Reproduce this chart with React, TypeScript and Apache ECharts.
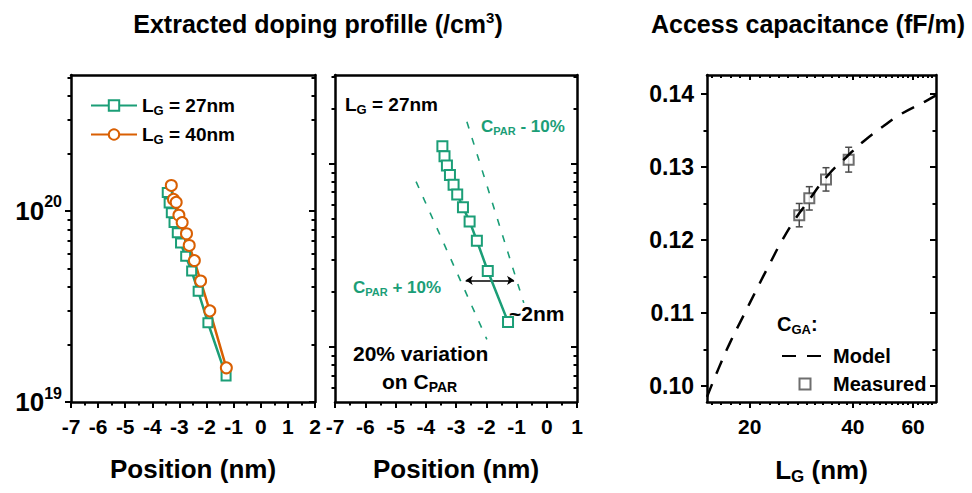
import React, { useEffect, useRef } from 'react';
import * as echarts from 'echarts';

// ---------- data ----------
const POS_27 = [-3.45, -3.38, -3.30, -3.20, -3.08, -2.96, -2.77, -2.55, -2.31, -1.95, -1.28];
const DOP_27 = [1.25e20, 1.10e20, 9.8e19, 8.7e19, 7.7e19, 6.8e19, 5.8e19, 4.85e19, 3.8e19, 2.6e19, 1.37e19];
const POS_40 = [-3.30, -3.22, -3.12, -3.02, -2.90, -2.74, -2.64, -2.45, -2.22, -1.88, -1.27];
const DOP_40 = [1.36e20, 1.15e20, 1.11e20, 9.5e19, 8.7e19, 7.6e19, 6.6e19, 5.5e19, 4.3e19, 3.0e19, 1.51e19];

const PLUS10_X = [-4.32, -1.98];
const PLUS10_Y = [8.0e19, 1.1e19];
const MINUS10_X = [-2.64, -0.76];
const MINUS10_Y = [1.70e20, 1.74e19];
const ARROW_X = [-2.68, -1.08];
const ARROW_Y = 2.31e19;

const LG_MEAS = [27.9, 29.85, 33.4, 38.9];
const C_MEAS = [0.1234, 0.1257, 0.1283, 0.1310];
const C_ERR = [0.0016, 0.0016, 0.0016, 0.0017];

const MODEL_LG = [15, 16.15, 17.46, 19.11, 20.93, 22.91, 24.77, 27.1, 29.3, 33.6, 38.4, 42.96, 49.2, 55.1, 65.2, 70];
const MODEL_C = [0.0985, 0.1022, 0.1058, 0.1095, 0.1132, 0.1168, 0.1198, 0.1228, 0.1250, 0.1287, 0.1314, 0.1335, 0.1356, 0.1372, 0.1390, 0.1398];

// ticks / labels
const Y_MAJOR = [1e19, 1e20];
const Y_MINOR_LEFT = [2e19, 3e19, 4e19, 5e19, 6e19, 7e19, 8e19, 9e19, 2e20, 3e20, 4e20, 5e20];
const Y_MINOR_MID = [6e18, 7e18, 8e18, 9e18, 2e19, 3e19, 4e19, 5e19, 6e19, 7e19, 8e19, 9e19, 2e20, 3e20];
const LG_LABELS = [20, 40, 60];
const LG_MINOR = [15.5, 16.5, 17.6, 18.7, 21.4, 22.9, 24.3, 25.8, 27.6, 29.3, 31, 32.7, 34.8, 36.4, 38.3, 42, 44, 46, 48, 50, 52, 54, 56, 58, 62, 64, 66, 68];
const C_LABELS = [0.10, 0.11, 0.12, 0.13, 0.14];
const C_MINOR = [0.105, 0.115, 0.125, 0.135];

const FONT = "'Liberation Sans', Arial, Helvetica, sans-serif";
const GREEN = '#1b9e77';
const ORANGE = '#d95f02';
const GREY = '#4a4a4a';

const zip = (a: number[], b: number[]) => a.map((v, i) => [v, b[i]]);

const lineAx = { show: true, onZero: false, lineStyle: { color: '#000', width: 2.5 } };
const noLine = { show: false, onZero: false };
const tk = (len: number, inside = false, customValues?: number[]) => ({
  show: true, inside, length: len, lineStyle: { color: '#000', width: 2 },
  ...(customValues ? { customValues } : {}),
});
const noLabel = { show: false };
const bold = (size: number) => ({ fontSize: size, fontWeight: 'bold', fontFamily: FONT, color: '#000' });

function logY(grid: number, min: number, max: number, pos: string, major: boolean, inside: boolean, minorVals: number[], labels: boolean) {
  return {
    type: 'log', logBase: 10, gridIndex: grid, min, max, position: pos,
    splitLine: { show: false },
    axisLine: major ? lineAx : noLine,
    axisTick: major ? tk(6, inside, Y_MAJOR) : tk(3.5, inside, minorVals),
    axisLabel: labels ? {
      ...bold(26), margin: 9,
      customValues: Y_MAJOR,
      formatter: (v: number) => `{b|10}{p|${Math.round(Math.log10(v))}}`,
      rich: {
        b: { ...bold(26) },
        p: { ...bold(16), padding: [0, 0, 18, 0] },
      },
    } : noLabel,
  };
}

function linX(grid: number, max: number, pos: string, withLabels: boolean) {
  return {
    type: 'value', gridIndex: grid, min: -7, max, interval: 1, position: pos,
    splitLine: { show: false },
    axisLine: lineAx,
    axisTick: withLabels ? tk(6) : { show: false },
    minorTick: withLabels ? { show: true, splitNumber: 2, length: 3.5, lineStyle: { color: '#000', width: 2 } } : { show: false },
    axisLabel: withLabels ? { ...bold(21), margin: 14 } : noLabel,
    name: withLabels ? 'Position (nm)' : '',
    nameLocation: 'middle', nameGap: 54,
    nameTextStyle: bold(26),
  };
}

function logX(pos: string, major: boolean, inside: boolean, labels: boolean) {
  return {
    type: 'log', logBase: 10, gridIndex: 2, min: 15, max: 70, position: pos,
    splitLine: { show: false },
    axisLine: major ? lineAx : noLine,
    axisTick: major ? tk(inside ? 5 : 6, inside, LG_LABELS) : tk(3, inside, LG_MINOR),
    axisLabel: labels ? { ...bold(21), margin: 14, customValues: LG_LABELS } : noLabel,
    name: labels ? '{n|L}{s|G}{n| (nm)}' : '',
    nameLocation: 'middle', nameGap: 52,
    nameTextStyle: {
      ...bold(26),
      rich: { n: { ...bold(26) }, s: { ...bold(17), padding: [14, 0, 0, 0] } },
    },
  };
}

function valY(pos: string, major: boolean, inside: boolean, labels: boolean) {
  return {
    type: 'value', gridIndex: 2, min: 0.0978, max: 0.1426, position: pos,
    splitLine: { show: false },
    axisLine: major ? lineAx : noLine,
    axisTick: major ? tk(6, inside, C_LABELS) : tk(3.5, inside, C_MINOR),
    axisLabel: labels ? { ...bold(23), margin: 13, customValues: C_LABELS, formatter: (v: number) => v.toFixed(2) } : noLabel,
  };
}

function txt(x: number, y: number, text: string, rich: any, align = 'left') {
  return {
    type: 'text', x, y, silent: true,
    style: { text, rich, textAlign: align, textVerticalAlign: 'middle', fontFamily: FONT, fontWeight: 'bold' },
  };
}
const rs = (size: number, color: string, pad?: number[]) => ({
  fontSize: size, fontWeight: 'bold', fontFamily: FONT, fill: color, ...(pad ? { padding: pad } : {}),
});

export default function App() {
  const ref = useRef<HTMLDivElement>(null);
  useEffect(() => {
    if (!ref.current) return;
    const chart = echarts.init(ref.current, undefined, { renderer: 'svg' });
    const option: any = {
      animation: false,
      backgroundColor: '#fff',
      grid: [
        { left: 71, top: 75, width: 244, height: 327 },
        { left: 335, top: 75, width: 242, height: 327 },
        { left: 707, top: 75, width: 229, height: 327 },
      ],
      xAxis: [
        linX(0, 2, 'bottom', true),
        linX(0, 2, 'top', false),
        linX(1, 1, 'bottom', true),
        linX(1, 1, 'top', false),
        logX('bottom', true, false, true),
        logX('bottom', false, false, false),
        logX('top', true, true, false),
        logX('top', false, true, false),
      ],
      yAxis: [
        logY(0, 1e19, 5.15e20, 'left', true, false, Y_MINOR_LEFT, true),
        logY(0, 1e19, 5.15e20, 'left', false, false, Y_MINOR_LEFT, false),
        logY(0, 1e19, 5.15e20, 'right', true, true, Y_MINOR_LEFT, false),
        logY(0, 1e19, 5.15e20, 'right', false, true, Y_MINOR_LEFT, false),
        logY(1, 5e18, 3.06e20, 'left', true, false, Y_MINOR_MID, false),
        logY(1, 5e18, 3.06e20, 'left', false, false, Y_MINOR_MID, false),
        logY(1, 5e18, 3.06e20, 'right', true, true, Y_MINOR_MID, false),
        logY(1, 5e18, 3.06e20, 'right', false, true, Y_MINOR_MID, false),
        valY('left', true, false, true),
        valY('left', false, false, false),
        valY('right', true, true, false),
        valY('right', false, true, false),
      ],
      legend: [
        {
          data: ['LG27', 'LG40'], left: 85, top: 91, orient: 'vertical',
          itemWidth: 46, itemHeight: 13, itemGap: 8,
          formatter: (n: string) => (n === 'LG27' ? '{n|L}{s|G}{n| = 27nm}' : '{n|L}{s|G}{n| = 40nm}'),
          textStyle: {
            ...bold(19),
            rich: { n: { ...bold(19) }, s: { ...bold(13), padding: [10, 0, 0, 0] } },
          },
        },
        {
          data: [
            { name: 'Model', itemStyle: { opacity: 0 } },
            { name: 'Measured', icon: 'path://M0 0H10V10H0Z' },
          ],
          left: 776, top: 341, orient: 'vertical',
          itemWidth: 46, itemHeight: 11, itemGap: 8,
          textStyle: { ...bold(20) },
        },
      ],
      series: [
        {
          name: 'LG27', type: 'line', xAxisIndex: 0, yAxisIndex: 0, data: zip(POS_27, DOP_27),
          symbol: 'emptyRect', symbolSize: 9, color: GREEN,
          lineStyle: { color: GREEN, width: 2.5 }, itemStyle: { color: GREEN, borderWidth: 2 },
        },
        {
          name: 'LG40', type: 'line', xAxisIndex: 0, yAxisIndex: 0, data: zip(POS_40, DOP_40),
          symbol: 'emptyCircle', symbolSize: 11, color: ORANGE,
          lineStyle: { color: ORANGE, width: 2.5 }, itemStyle: { color: ORANGE, borderWidth: 2 },
        },
        {
          name: 'plus10', type: 'line', xAxisIndex: 2, yAxisIndex: 4, data: zip(PLUS10_X, PLUS10_Y),
          symbol: 'none', lineStyle: { color: GREEN, width: 1.6, type: [7, 10] },
        },
        {
          name: 'minus10', type: 'line', xAxisIndex: 2, yAxisIndex: 4, data: zip(MINUS10_X, MINUS10_Y),
          symbol: 'none', lineStyle: { color: GREEN, width: 1.6, type: [7, 10] },
        },
        {
          name: 'mid27', type: 'line', xAxisIndex: 2, yAxisIndex: 4, data: zip(POS_27, DOP_27),
          symbol: 'emptyRect', symbolSize: 10, color: GREEN,
          lineStyle: { color: GREEN, width: 2.5 }, itemStyle: { color: GREEN, borderWidth: 2 },
        },
        {
          name: 'arrow', type: 'lines', coordinateSystem: 'cartesian2d', xAxisIndex: 2, yAxisIndex: 4,
          data: [{ coords: [[ARROW_X[0], ARROW_Y], [ARROW_X[1], ARROW_Y]] }],
          symbol: ['arrow', 'arrow'], symbolSize: 7,
          lineStyle: { color: '#000', width: 1.6, opacity: 1 },
        },
        {
          name: 'Model', type: 'line', xAxisIndex: 4, yAxisIndex: 8, data: zip(MODEL_LG, MODEL_C),
          smooth: true, symbol: 'none', color: '#000',
          lineStyle: { color: '#000', width: 2.5, type: [14, 11] },
        },
        {
          name: 'err', type: 'custom', xAxisIndex: 4, yAxisIndex: 8,
          data: LG_MEAS.map((x, i) => [x, C_MEAS[i], C_ERR[i]]),
          renderItem: (_p: any, api: any) => {
            const x = api.value(0), y = api.value(1), e = api.value(2);
            const t = api.coord([x, y + e]);
            const b = api.coord([x, y - e]);
            const w = 3.5;
            const st = { stroke: GREY, lineWidth: 1.5 };
            return {
              type: 'group',
              children: [
                { type: 'line', shape: { x1: t[0], y1: t[1], x2: b[0], y2: b[1] }, style: st },
                { type: 'line', shape: { x1: t[0] - w, y1: t[1], x2: t[0] + w, y2: t[1] }, style: st },
                { type: 'line', shape: { x1: b[0] - w, y1: b[1], x2: b[0] + w, y2: b[1] }, style: st },
              ],
            };
          },
        },
        {
          name: 'Measured', type: 'scatter', xAxisIndex: 4, yAxisIndex: 8, data: zip(LG_MEAS, C_MEAS),
          symbol: 'rect', symbolSize: 10,
          itemStyle: { color: '#fff', borderColor: GREY, borderWidth: 2 },
        },
      ],
      graphic: [
        txt(318, 24, '{a|Extracted doping profille (/cm}{p|3}{a|)}', {
          a: rs(25, '#000'), p: rs(15, '#000', [0, 0, 14, 0]),
        }, 'center'),
        txt(808, 24, '{a|Access capacitance (fF/m)}', { a: rs(25, '#000') }, 'center'),
        txt(345, 104, '{a|L}{s|G}{a| = 27nm}', { a: rs(19, '#000'), s: rs(13, '#000', [10, 0, 0, 0]) }),
        txt(481, 126, '{a|C}{s|PAR}{a| - 10%}', { a: rs(17, GREEN), s: rs(11, GREEN, [9, 0, 0, 0]) }),
        txt(353, 287, '{a|C}{s|PAR}{a| + 10%}', { a: rs(17, GREEN), s: rs(11, GREEN, [9, 0, 0, 0]) }),
        txt(509, 313, '{a|~2nm}', { a: rs(21, '#000') }),
        txt(353, 353, '{a|20% variation}', { a: rs(21, '#000') }),
        txt(382, 381, '{a|on C}{s|PAR}', { a: rs(21, '#000'), s: rs(14, '#000', [11, 0, 0, 0]) }),
        txt(777, 324, '{a|C}{s|GA}{a|:}', { a: rs(20, '#000'), s: rs(13, '#000', [10, 0, 0, 0]) }),
      ],
    };
    chart.setOption(option);
    return () => chart.dispose();
  }, []);
  return <div ref={ref} style={{ position: 'fixed', left: 0, top: 0, width: 972, height: 493, background: '#fff' }} />;
}
